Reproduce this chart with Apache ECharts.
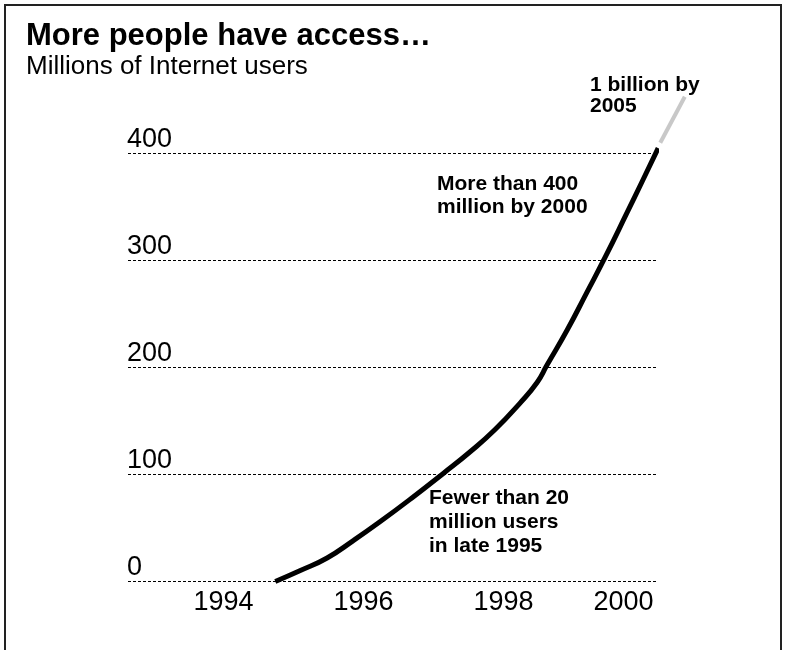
<!DOCTYPE html>
<html>
<head>
<meta charset="utf-8">
<script src="https://cdn.jsdelivr.net/npm/echarts@6/dist/echarts.min.js"></script>
<style>
html,body{margin:0;padding:0;background:#fff;}
#chart{width:787px;height:650px;}
</style>
</head>
<body>
<div id="chart"></div>
<script>
// ---- data ----
var years  = [1994.74, 1995.09, 1995.48, 1995.85, 1996.24, 1996.71, 1997.14, 1997.52, 1997.88, 1998.24, 1998.48, 1998.62, 1998.91, 1999.19, 1999.46, 1999.76, 1999.99, 2000.21];
var users  = [0, 10, 22, 38, 56, 79, 101, 121, 142, 167, 186, 202, 235, 270, 304, 344, 375, 405];
var projectionYears  = [2000.24, 2000.59];
var projectionValues = [410, 453];
var xTicks = [1994, 1996, 1998, 2000];
var yTicks = [0, 100, 200, 300, 400];
var titleText = 'More people have access…';
var subtitleText = 'Millions of Internet users';
var notes = {
  billion: '1 billion by\n2005',
  over400: 'More than 400\nmillion by 2000',
  under20: 'Fewer than 20\nmillion users\nin late 1995'
};

function pairs(xs, ys) { return xs.map(function (x, i) { return [x, ys[i]]; }); }

var FONT = "'Liberation Sans', Arial, Helvetica, sans-serif";
var chart = echarts.init(document.getElementById('chart'), null, {renderer: 'canvas'});

var noteStyle = {fontFamily: FONT, fontSize: 21, fontWeight: 'bold', fill: '#000'};

// main plot geometry
var X_MIN = 1992.636, X_MAX = 2000.179;
var PX_PER_YEAR = 70, PX_PER_UNIT = 1.07;
var GRID_LEFT = 128, GRID_TOP = 153.5, GRID_BOTTOM = 68.5, GRID_RIGHT = 131;
// wider companion frame (same scale) so the projection lies inside its extent
var X_MAX2 = 2000.8, Y_MAX2 = 500;
var GRID2_RIGHT = GRID_RIGHT - (X_MAX2 - X_MAX) * PX_PER_YEAR;
var GRID2_TOP = GRID_TOP - (Y_MAX2 - yTicks[yTicks.length - 1]) * PX_PER_UNIT;

chart.setOption({
  animation: false,
  backgroundColor: '#fff',
  textStyle: {fontFamily: FONT},
  title: {
    text: titleText,
    subtext: subtitleText,
    left: 26, top: 21, padding: 0, itemGap: 2,
    textStyle: {fontFamily: FONT, fontSize: 31, fontWeight: 'bold', lineHeight: 31, color: '#000'},
    subtextStyle: {fontFamily: FONT, fontSize: 26, lineHeight: 26, color: '#000'}
  },
  grid: [
    {left: GRID_LEFT, right: GRID_RIGHT, top: GRID_TOP, bottom: GRID_BOTTOM, containLabel: false},
    {left: GRID_LEFT, right: GRID2_RIGHT, top: GRID2_TOP, bottom: GRID_BOTTOM, containLabel: false}
  ],
  xAxis: [{
    type: 'value', gridIndex: 0,
    min: X_MIN, max: X_MAX,
    axisLine: {show: false},
    axisTick: {show: false},
    splitLine: {show: false},
    axisLabel: {
      customValues: xTicks,
      margin: 8,
      fontFamily: FONT, fontSize: 27, lineHeight: 27, color: '#000',
      formatter: function (v) { return v === xTicks[xTicks.length - 1] ? '{e|' + v + '}' : String(v); },
      rich: {e: {fontFamily: FONT, fontSize: 27, lineHeight: 27, color: '#000', padding: [0, 40, 0, 0]}}
    }
  }, {
    type: 'value', gridIndex: 1, min: X_MIN, max: X_MAX2, show: false
  }],
  yAxis: [{
    type: 'value', gridIndex: 0,
    min: yTicks[0], max: yTicks[yTicks.length - 1], interval: 100,
    axisLine: {show: false},
    axisTick: {show: false},
    splitLine: {show: true, lineStyle: {color: '#000', width: 1, type: [3, 2]}},
    axisLabel: {
      inside: true, margin: -1, align: 'left', verticalAlign: 'bottom',
      fontFamily: FONT, fontSize: 27, lineHeight: 27, color: '#000'
    }
  }, {
    type: 'value', gridIndex: 1, min: 0, max: Y_MAX2, show: false, splitLine: {show: false}
  }],
  series: [
    {
      name: 'Internet users',
      type: 'line',
      xAxisIndex: 0, yAxisIndex: 0,
      data: pairs(years, users),
      smooth: 0.5,
      showSymbol: false,
      symbol: 'none',
      clip: false,
      lineStyle: {color: '#000', width: 5, cap: 'butt'},
      z: 3
    },
    {
      name: 'Projection',
      type: 'line',
      xAxisIndex: 1, yAxisIndex: 1,
      data: pairs(projectionYears, projectionValues),
      showSymbol: false,
      symbol: 'none',
      clip: false,
      lineStyle: {color: '#c8c8c8', width: 4, cap: 'butt'},
      z: 2
    }
  ],
  graphic: [
    {type: 'rect', shape: {x: 5, y: 5, width: 776, height: 720}, style: {fill: 'none', stroke: '#222', lineWidth: 2}, silent: true, z: 10},
    {type: 'text', left: 590, top: 75, style: Object.assign({text: notes.billion, lineHeight: 21}, noteStyle)},
    {type: 'text', left: 437, top: 173, style: Object.assign({text: notes.over400, lineHeight: 23}, noteStyle)},
    {type: 'text', left: 429, top: 486, style: Object.assign({text: notes.under20, lineHeight: 24}, noteStyle)}
  ]
});
</script>
</body>
</html>
